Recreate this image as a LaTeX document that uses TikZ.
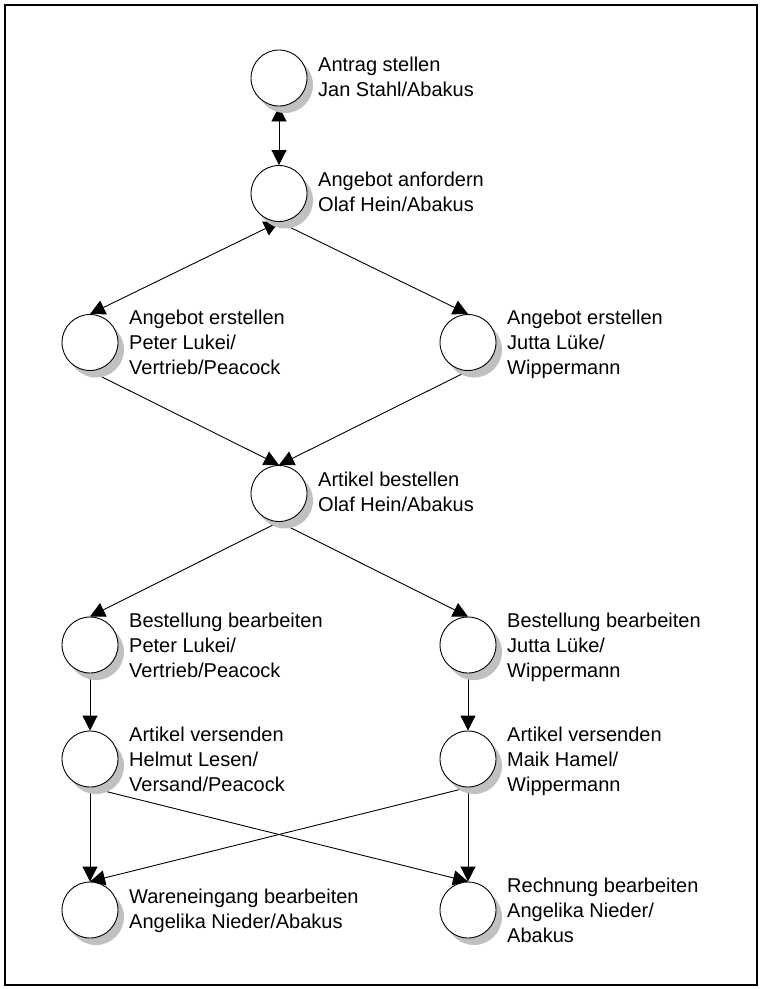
\documentclass[tikz,border=0pt]{standalone}
\usepackage{fontspec}
\setmainfont{Liberation Sans}
\usetikzlibrary{arrows.meta}
\definecolor{shadowgrey}{RGB}{192,192,192}
\pgfdeclarelayer{wires}
\pgfdeclarelayer{shades}
\pgfsetlayers{wires,shades,main}
% a caption block: one \lrow per printed line, baseline at the first line
\newcommand\lrows[1]{\vtop{#1}}
\newcommand\lrow[1]{\hbox{#1}}
\begin{document}
\begin{tikzpicture}[x=1pt,y=-1pt,
  state/.style={circle, draw=black, line width=0.9pt, fill=white,
    minimum size=56pt, inner sep=0pt},
  caption/.style={anchor=base west, inner sep=0pt,
    font=\fontsize{20}{25}\selectfont},
  wire/.style={line width=0.9pt},
  flow/.style={wire, -{Triangle[length=15pt,width=15pt]}},
  twoway/.style={wire, {Triangle[length=15pt,width=15pt]}-{Triangle[length=15pt,width=15pt]}}]

\useasboundingbox (0,0) rectangle (760,989);
\draw[line width=2.2pt] (5,5) rectangle (757,985);

% activity circles
\node[state] (antrag) at (279,78)    {};
\node[state] (anf)    at (279,193.5) {};
\node[state] (erstL)  at (90,342.5)  {};
\node[state] (erstR)  at (468,342.5) {};
\node[state] (best)   at (279,493.5) {};
\node[state] (bearbL) at (90,645)    {};
\node[state] (bearbR) at (468,645)   {};
\node[state] (versL)  at (90,759)    {};
\node[state] (versR)  at (468,759)   {};
\node[state] (waren)  at (90,910)    {};
\node[state] (rech)   at (468,910)   {};

% grey drop shadows behind the circles
\begin{pgfonlayer}{shades}
  \foreach \n in {antrag,anf,erstL,erstR,best,bearbL,bearbR,versL,versR,waren,rech}
    \fill[shadowgrey] ([xshift=6pt,yshift=-7pt]\n.center) circle[radius=28pt];
\end{pgfonlayer}

% captions
\node[caption] (antragT) at (318,71)    {\lrows{\lrow{Antrag stellen}\lrow{Jan Stahl/Abakus}}};
\node[caption] (anfT)    at (318,186.5) {\lrows{\lrow{Angebot anfordern}\lrow{Olaf Hein/Abakus}}};
\node[caption] (erstLT)  at (129,324.5) {\lrows{\lrow{Angebot erstellen}\lrow{Peter Lukei/}\lrow{Vertrieb/Peacock}}};
\node[caption] (erstRT)  at (507,324.5) {\lrows{\lrow{Angebot erstellen}\lrow{Jutta Lüke/}\lrow{Wippermann}}};
\node[caption] (bestT)   at (318,486.5) {\lrows{\lrow{Artikel bestellen}\lrow{Olaf Hein/Abakus}}};
\node[caption] (bearbLT) at (129,627)   {\lrows{\lrow{Bestellung bearbeiten}\lrow{Peter Lukei/}\lrow{Vertrieb/Peacock}}};
\node[caption] (bearbRT) at (507,627)   {\lrows{\lrow{Bestellung bearbeiten}\lrow{Jutta Lüke/}\lrow{Wippermann}}};
\node[caption] (versLT)  at (129,741)   {\lrows{\lrow{Artikel versenden}\lrow{Helmut Lesen/}\lrow{Versand/Peacock}}};
\node[caption] (versRT)  at (507,741)   {\lrows{\lrow{Artikel versenden}\lrow{Maik Hamel/}\lrow{Wippermann}}};
\node[caption] (warenT)  at (129,903)   {\lrows{\lrow{Wareneingang bearbeiten}\lrow{Angelika Nieder/Abakus}}};
\node[caption] (rechT)   at (507,892)   {\lrows{\lrow{Rechnung bearbeiten}\lrow{Angelika Nieder/}\lrow{Abakus}}};

% connectors, bottom point to top point, under the shadows
\begin{pgfonlayer}{wires}
  \draw[twoway] (antrag.south) -- (anf.north);
  \draw[twoway] (anf.south) -- (erstL.north);
  \draw[flow] (anf.south) -- (erstR.north);
  \draw[flow] (erstL.south) -- (best.north);
  \draw[flow] (erstR.south) -- (best.north);
  \draw[flow] (best.south) -- (bearbL.north);
  \draw[flow] (best.south) -- (bearbR.north);
  \draw[flow] (bearbL.south) -- (versL.north);
  \draw[flow] (bearbR.south) -- (versR.north);
  \draw[flow] (versL.south) -- (waren.north);
  \draw[flow] (versL.south) -- (rech.north);
  \draw[flow] (versR.south) -- (waren.north);
  \draw[flow] (versR.south) -- (rech.north);
\end{pgfonlayer}
\end{tikzpicture}
\end{document}
